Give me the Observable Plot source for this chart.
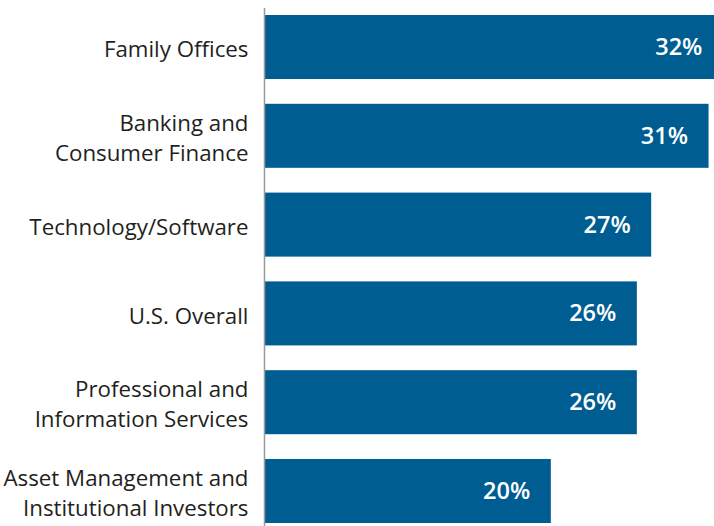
<!DOCTYPE html>
<html>
<head>
<meta charset="utf-8">
<script src="https://cdn.jsdelivr.net/npm/d3@7"></script>
<script src="https://cdn.jsdelivr.net/npm/@observablehq/plot@0.6"></script>
<style>
  html, body { margin: 0; padding: 0; background: #ffffff; }
  #chart { width: 714px; height: 526px; overflow: hidden; }
</style>
</head>
<body>
<div id="chart"></div>
<script>
const categories = [
  "Family Offices",
  "Banking and\nConsumer Finance",
  "Technology/Software",
  "U.S. Overall",
  "Professional and\nInformation Services",
  "Asset Management and\nInstitutional Investors"
];
const values = [32, 31, 27, 26, 26, 20];
const valueLabels = ["32%", "31%", "27%", "26%", "26%", "20%"];

const data = categories.map((c, i) => ({category: c, value: values[i], label: valueLabels[i]}));

const chart = Plot.plot({
  width: 714,
  height: 526,
  marginLeft: 264,
  marginRight: 0,
  marginTop: 8,
  marginBottom: 0,
  style: {fontFamily: "'Open Sans', sans-serif", background: "#ffffff"},
  x: {domain: [0, 31.38], axis: null},
  y: {domain: categories, axis: null, paddingInner: 0.279, paddingOuter: 0.0563, align: 0.7, round: false},
  marks: [
    Plot.barX(data, {x: "value", y: "category", fill: "#005d92"}),
    Plot.ruleX([0], {stroke: "#9a9a9a", strokeWidth: 1.5}),
    Plot.text(data, {
      x: 0, y: "category", text: "category",
      textAnchor: "end", dx: -16, fontSize: 22.3, lineHeight: 1.35, fill: "#231f20"
    }),
    Plot.text(data, {
      x: "value", y: "category", text: "label",
      textAnchor: "end", dx: -21, fontSize: 23.5, fontWeight: 600, fill: "#ffffff"
    })
  ]
});
document.getElementById("chart").appendChild(chart);
</script>
</body>
</html>
